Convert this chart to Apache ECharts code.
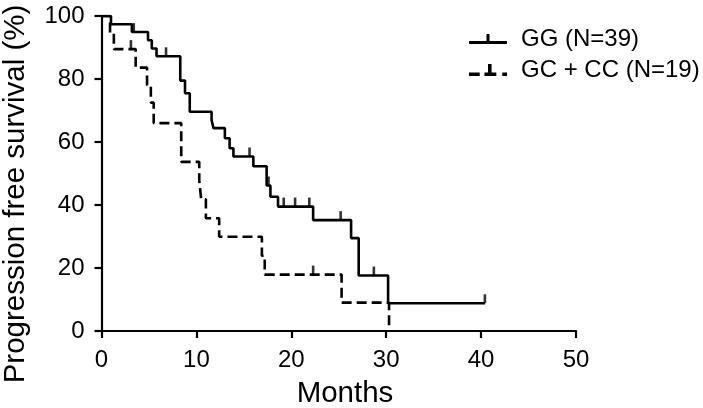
<!DOCTYPE html>
<html><head><meta charset="utf-8">
<script src="https://cdn.jsdelivr.net/npm/echarts@6/dist/echarts.min.js"></script>
<style>html,body{margin:0;padding:0;background:#fff}#c{width:703px;height:408px}</style>
</head><body><div id="c"></div>
<script>
// GG (N=39): step times (months) and survival (%) after each step
const ggTimes  = [0, 1.0, 3.2, 4.9, 5.3, 5.8, 8.3, 8.8, 9.3, 11.6, 11.8, 13.0, 13.5, 13.9, 16.0, 17.4, 17.8, 18.6, 22.3, 26.3, 27.1, 30.2, 40.4];
const ggValues = [100, 97.4, 94.9, 92.3, 89.7, 87.2, 79.5, 75.5, 69.6, 67.0, 64.4, 61.2, 58.0, 55.4, 52.3, 46.2, 42.6, 39.5, 35.2, 29.5, 17.6, 8.8, 8.8];
const ggCensorTimes  = [3.4, 6.8, 15.6, 17.6, 19.2, 20.4, 21.9, 25.2, 28.7, 40.4];
const ggCensorValues = [94.9, 87.2, 55.4, 46.2, 39.5, 39.5, 39.5, 35.2, 17.6, 8.8];

// GC + CC (N=19)
const gcTimes  = [0, 0.9, 1.3, 3.6, 4.8, 5.2, 5.5, 8.4, 10.3, 10.5, 11.0, 12.4, 16.9, 17.2, 25.3, 30.3];
const gcValues = [100, 94.7, 89.5, 83.6, 78.0, 72.5, 66.0, 53.7, 47.8, 41.8, 35.8, 29.9, 23.9, 17.9, 9.0, 0];
const gcCensorTimes  = [3.1, 22.3];
const gcCensorValues = [89.5, 17.9];

const xTicks = [0, 10, 20, 30, 40, 50];
const yTicks = [0, 20, 40, 60, 80, 100];
const seriesNames = ['GG (N=39)', 'GC + CC (N=19)'];
const xTitle = 'Months';
const yTitle = 'Progression free survival (%)';

const zip = (a, b) => a.map((v, i) => [v, b[i]]);
const FONT = '"Liberation Sans", Arial, Helvetica, sans-serif';
const tickSym = 'rect';

const chart = echarts.init(document.getElementById('c'), null, {renderer: 'canvas'});
chart.setOption({
  animation: false,
  backgroundColor: '#fff',
  grid: {left: 101.5, right: 127, top: 16, bottom: 77, containLabel: false},
  legend: {
    orient: 'vertical', left: 464, top: 22, itemGap: 7,
    itemWidth: 38, itemHeight: 12,
    textStyle: {fontFamily: FONT, fontSize: 24, color: '#000', lineHeight: 24, padding: [0,0,0,9]},
    data: [
      {name: seriesNames[0], icon: 'path://M0,8h38v3h-38z M17.5,1h3v8h-3z'},
      {name: seriesNames[1], icon: 'path://M0,8h9v3h-9z M13,8h10v3h-10z M16,1h3v8h-3z M28,8h4v3h-4z'}
    ]
  },
  xAxis: {
    type: 'value', min: 0, max: 50, interval: 10,
    axisLine: {lineStyle: {color: '#000', width: 2.2}},
    axisTick: {length: 7, lineStyle: {color: '#000', width: 2.2}},
    axisLabel: {fontFamily: FONT, fontSize: 24, color: '#000', margin: 17,
      formatter: v => xTicks.includes(v) ? String(v) : ''},
    splitLine: {show: false}
  },
  yAxis: {
    type: 'value', min: 0, max: 100, interval: 20,
    axisLine: {show: true, lineStyle: {color: '#000', width: 2.2}},
    axisTick: {show: true, length: 7, lineStyle: {color: '#000', width: 2.2}},
    axisLabel: {fontFamily: FONT, fontSize: 24, color: '#000', margin: 17,
      formatter: v => yTicks.includes(v) ? String(v) : ''},
    splitLine: {show: false}
  },
  graphic: [{
    type: 'text', rotation: Math.PI / 2, x: 16, y: 194,
    style: {text: yTitle, font: '29.5px ' + FONT, fill: '#000',
      textAlign: 'center', textVerticalAlign: 'middle'}
  }, {
    type: 'text', x: 345, y: 394,
    style: {text: xTitle, font: '29.5px ' + FONT, fill: '#000',
      textAlign: 'center', textVerticalAlign: 'middle'}
  }],
  series: [
    {name: seriesNames[0], type: 'line', step: 'end', symbol: 'none',
     data: zip(ggTimes, ggValues), lineStyle: {color: '#000', width: 2.6}, itemStyle: {color: '#000'}},
    {name: seriesNames[1], type: 'line', step: 'end', symbol: 'none',
     data: zip(gcTimes, gcValues), lineStyle: {color: '#000', width: 2.6, type: [10, 5]}, itemStyle: {color: '#000'}},
    {name: 'ggc', type: 'scatter', symbol: tickSym, symbolSize: [2.6, 9], symbolOffset: [0, -4.5],
     data: zip(ggCensorTimes, ggCensorValues), itemStyle: {color: '#000'}},
    {name: 'gcc', type: 'scatter', symbol: tickSym, symbolSize: [2.6, 9], symbolOffset: [0, -4.5],
     data: zip(gcCensorTimes, gcCensorValues), itemStyle: {color: '#000'}}
  ]
});
</script></body></html>
